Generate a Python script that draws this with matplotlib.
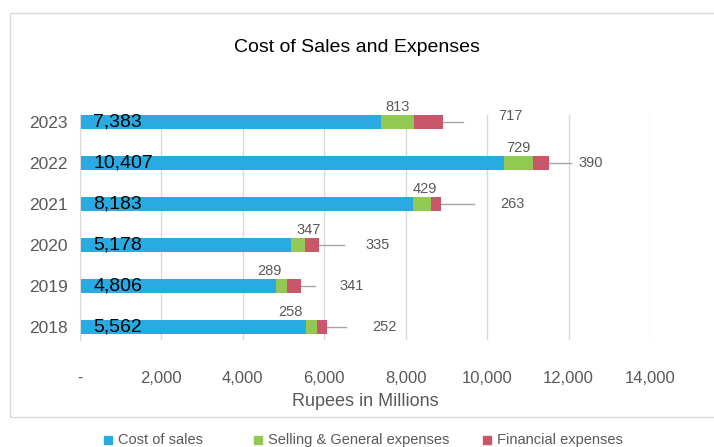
import matplotlib.pyplot as plt
from matplotlib.patches import Rectangle
import numpy as np

plt.rcParams['font.family'] = ['Liberation Sans', 'DejaVu Sans']

years = ['2018', '2019', '2020', '2021', '2022', '2023']
cost_of_sales = [5562, 4806, 5178, 8183, 10407, 7383]
selling_general = [258, 289, 347, 429, 729, 813]
financial = [252, 341, 335, 263, 390, 717]

# financial labels were dragged away from the bars, with leader lines back
fin_label_x = [7480, 6670, 7310, 10630, 12550, 10580]
fin_label_dy = [0, 0, 0, 0, 0, 0.15]
leader_end_x = [6540, 5760, 6490, 9670, 12050, 9400]
sga_label_dx = [-520, -300, 270, 75, 0, 0]

blue = '#29ABE2'
green = '#92C952'
red = '#C9566A'
grey_txt = '#595959'

W, H = 714, 447
fig = plt.figure(figsize=(W / 100, H / 100), dpi=100)
ax = fig.add_axes([80 / W, 1 - 340 / H, 570 / W, 225 / H])

y = np.arange(len(years))
cost = np.array(cost_of_sales)
sga = np.array(selling_general)
fin = np.array(financial)

ax.barh(y, cost, height=0.32, color=blue, zorder=2)
ax.barh(y, sga, left=cost, height=0.32, color=green, zorder=2)
ax.barh(y, fin, left=cost + sga, height=0.32, color=red, zorder=2)

for i in range(len(years)):
    end = cost[i] + sga[i] + fin[i]
    ax.plot([end, leader_end_x[i]], [y[i], y[i]], color='#A6A6A6', lw=1, zorder=1)
    ax.text(320, y[i], f'{cost[i]:,}', ha='left', va='center',
            fontsize=14, color='black', zorder=3)
    ax.annotate(f'{sga[i]:,}', (cost[i] + sga[i] / 2 + sga_label_dx[i], y[i]),
                xytext=(0, 15), textcoords='offset pixels',
                ha='center', va='center', fontsize=10.5, color=grey_txt)
    ax.text(fin_label_x[i], y[i] + fin_label_dy[i], f'{fin[i]:,}',
            ha='center', va='center', fontsize=10.5, color=grey_txt)

ax.set_xlim(0, 14000)
ax.set_ylim(-0.317, 5.17)
ax.set_yticks(y)
ax.set_yticklabels(years)
ticks = np.arange(0, 14001, 2000)
ax.set_xticks(ticks)
ax.set_xticklabels(['-'] + [f'{t:,}' for t in ticks[1:]])
ax.tick_params(axis='x', length=0, pad=22, labelsize=12, colors=grey_txt)
ax.tick_params(axis='y', length=0, pad=9, labelsize=12.5, colors=grey_txt)
ax.xaxis.grid(True, color='#D9D9D9', lw=1)
ax.set_axisbelow(True)
for s in ['top', 'right', 'bottom']:
    ax.spines[s].set_visible(False)
ax.spines['left'].set_color('#D9D9D9')
ax.set_xlabel('Rupees in Millions', fontsize=13, color=grey_txt, labelpad=5)

fig.text(0.5, 1 - 48 / H, 'Cost of Sales and Expenses', ha='center', va='center',
         fontsize=14, color='black')

# chart frame
fig.add_artist(Rectangle((10 / W, 1 - 417 / H), 720 / W, 404 / H,
                         transform=fig.transFigure, fill=False,
                         edgecolor='#D9D9D9', lw=1))

# legend below the frame
legend_items = [('Cost of sales', blue, 104), ('Selling & General expenses', green, 254),
                ('Financial expenses', red, 483)]
for label, col, px in legend_items:
    fig.add_artist(Rectangle((px / W, 1 - 444 / H), 8 / W, 8 / H,
                             transform=fig.transFigure, color=col))
    fig.text((px + 14) / W, 1 - 440 / H, label, ha='left', va='center',
             fontsize=10.5, color=grey_txt)

fig.savefig('out.png', dpi=100)
